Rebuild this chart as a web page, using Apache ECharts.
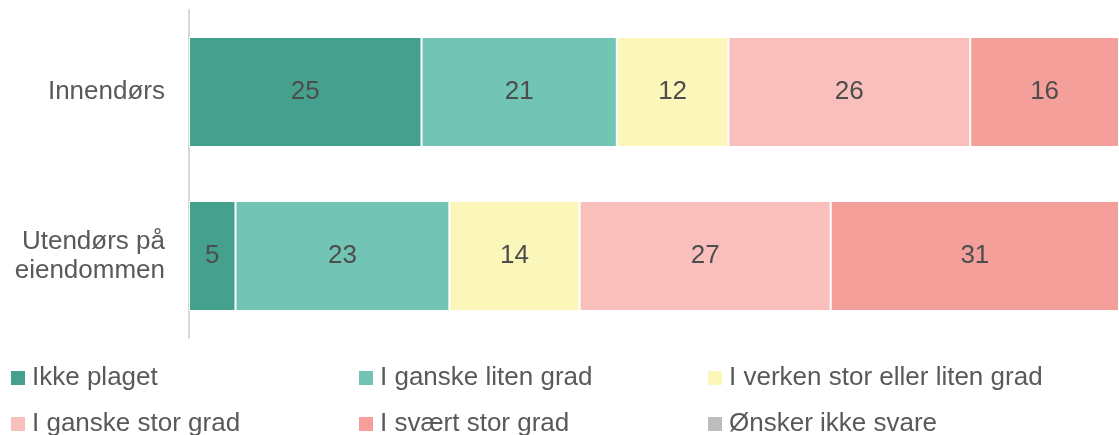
<!DOCTYPE html>
<html>
<head>
<meta charset="utf-8">
<script src="https://cdn.jsdelivr.net/npm/echarts@6/dist/echarts.min.js"></script>
<style>
html, body { margin: 0; padding: 0; background: #fff; }
#main { width: 1119px; height: 435px; }
</style>
</head>
<body>
<div id="main"></div>
<script>
// kategorier og verdier (prosent)
var categories = ['Innendørs', 'Utendørs på\neiendommen'];
var seriesNames = ['Ikke plaget', 'I ganske liten grad', 'I verken stor eller liten grad', 'I ganske stor grad', 'I svært stor grad', 'Ønsker ikke svare'];
var ikkePlaget = [25, 5];
var ganskeLiten = [21, 23];
var verken = [12, 14];
var ganskeStor = [26, 27];
var sværtStor = [16, 31];
var ønskerIkke = [0, 0];

var colors = ['#45a18e', '#72c5b4', '#fbf7ba', '#f8bfbc', '#f59f9a', '#bdbdbb'];
var allData = [ikkePlaget, ganskeLiten, verken, ganskeStor, sværtStor, ønskerIkke];
var FONT = 'Liberation Sans, Arial, sans-serif';

var chart = echarts.init(document.getElementById('main'));

var series = [];
for (var i = 0; i < seriesNames.length; i++) {
	series.push({
		name : seriesNames[i],
		type : 'bar',
		stack : 'total',
		barWidth : 110,
		itemStyle : {
			color : colors[i],
			borderColor : '#fff',
			borderWidth : 1
		},
		label : {
			show : true,
			color : '#4d4d4d',
			fontSize : 26,
			fontFamily : FONT,
			formatter : function(p) {
				return p.value > 0 ? p.value : '';
			}
		},
		data : allData[i]
	});
}

// én legende per element, plassert i tre kolonner og to rader
var colX = [11, 359, 708];
var rowY = [365, 411];
var legends = [];
for (var k = 0; k < seriesNames.length; k++) {
	legends.push({
		left : colX[k % 3],
		top : rowY[Math.floor(k / 3)],
		padding : 0,
		itemWidth : 14,
		itemHeight : 14,
		itemGap : 0,
		icon : 'rect',
		itemStyle : { borderWidth : 0 },
		textStyle : {
			color : '#595959',
			fontSize : 26,
			fontFamily : FONT,
			padding : [0, 0, 0, 2]
		},
		data : [seriesNames[k]]
	});
}

var option = {
	animation : false,
	color : colors,
	grid : {
		left : 189,
		right : 0,
		top : 10,
		bottom : 97,
		containLabel : false
	},
	legend : legends,
	xAxis : {
		type : 'value',
		min : 0,
		max : 100,
		show : false
	},
	yAxis : {
		type : 'category',
		inverse : true,
		data : categories,
		axisLine : {
			show : true,
			lineStyle : { color : '#d9d9d9', width : 2 }
		},
		axisTick : { show : false },
		axisLabel : {
			margin : 24,
			color : '#595959',
			fontSize : 26,
			lineHeight : 29,
			align : 'right',
			fontFamily : FONT
		}
	},
	series : series
};

chart.setOption(option);
</script>
</body>
</html>
